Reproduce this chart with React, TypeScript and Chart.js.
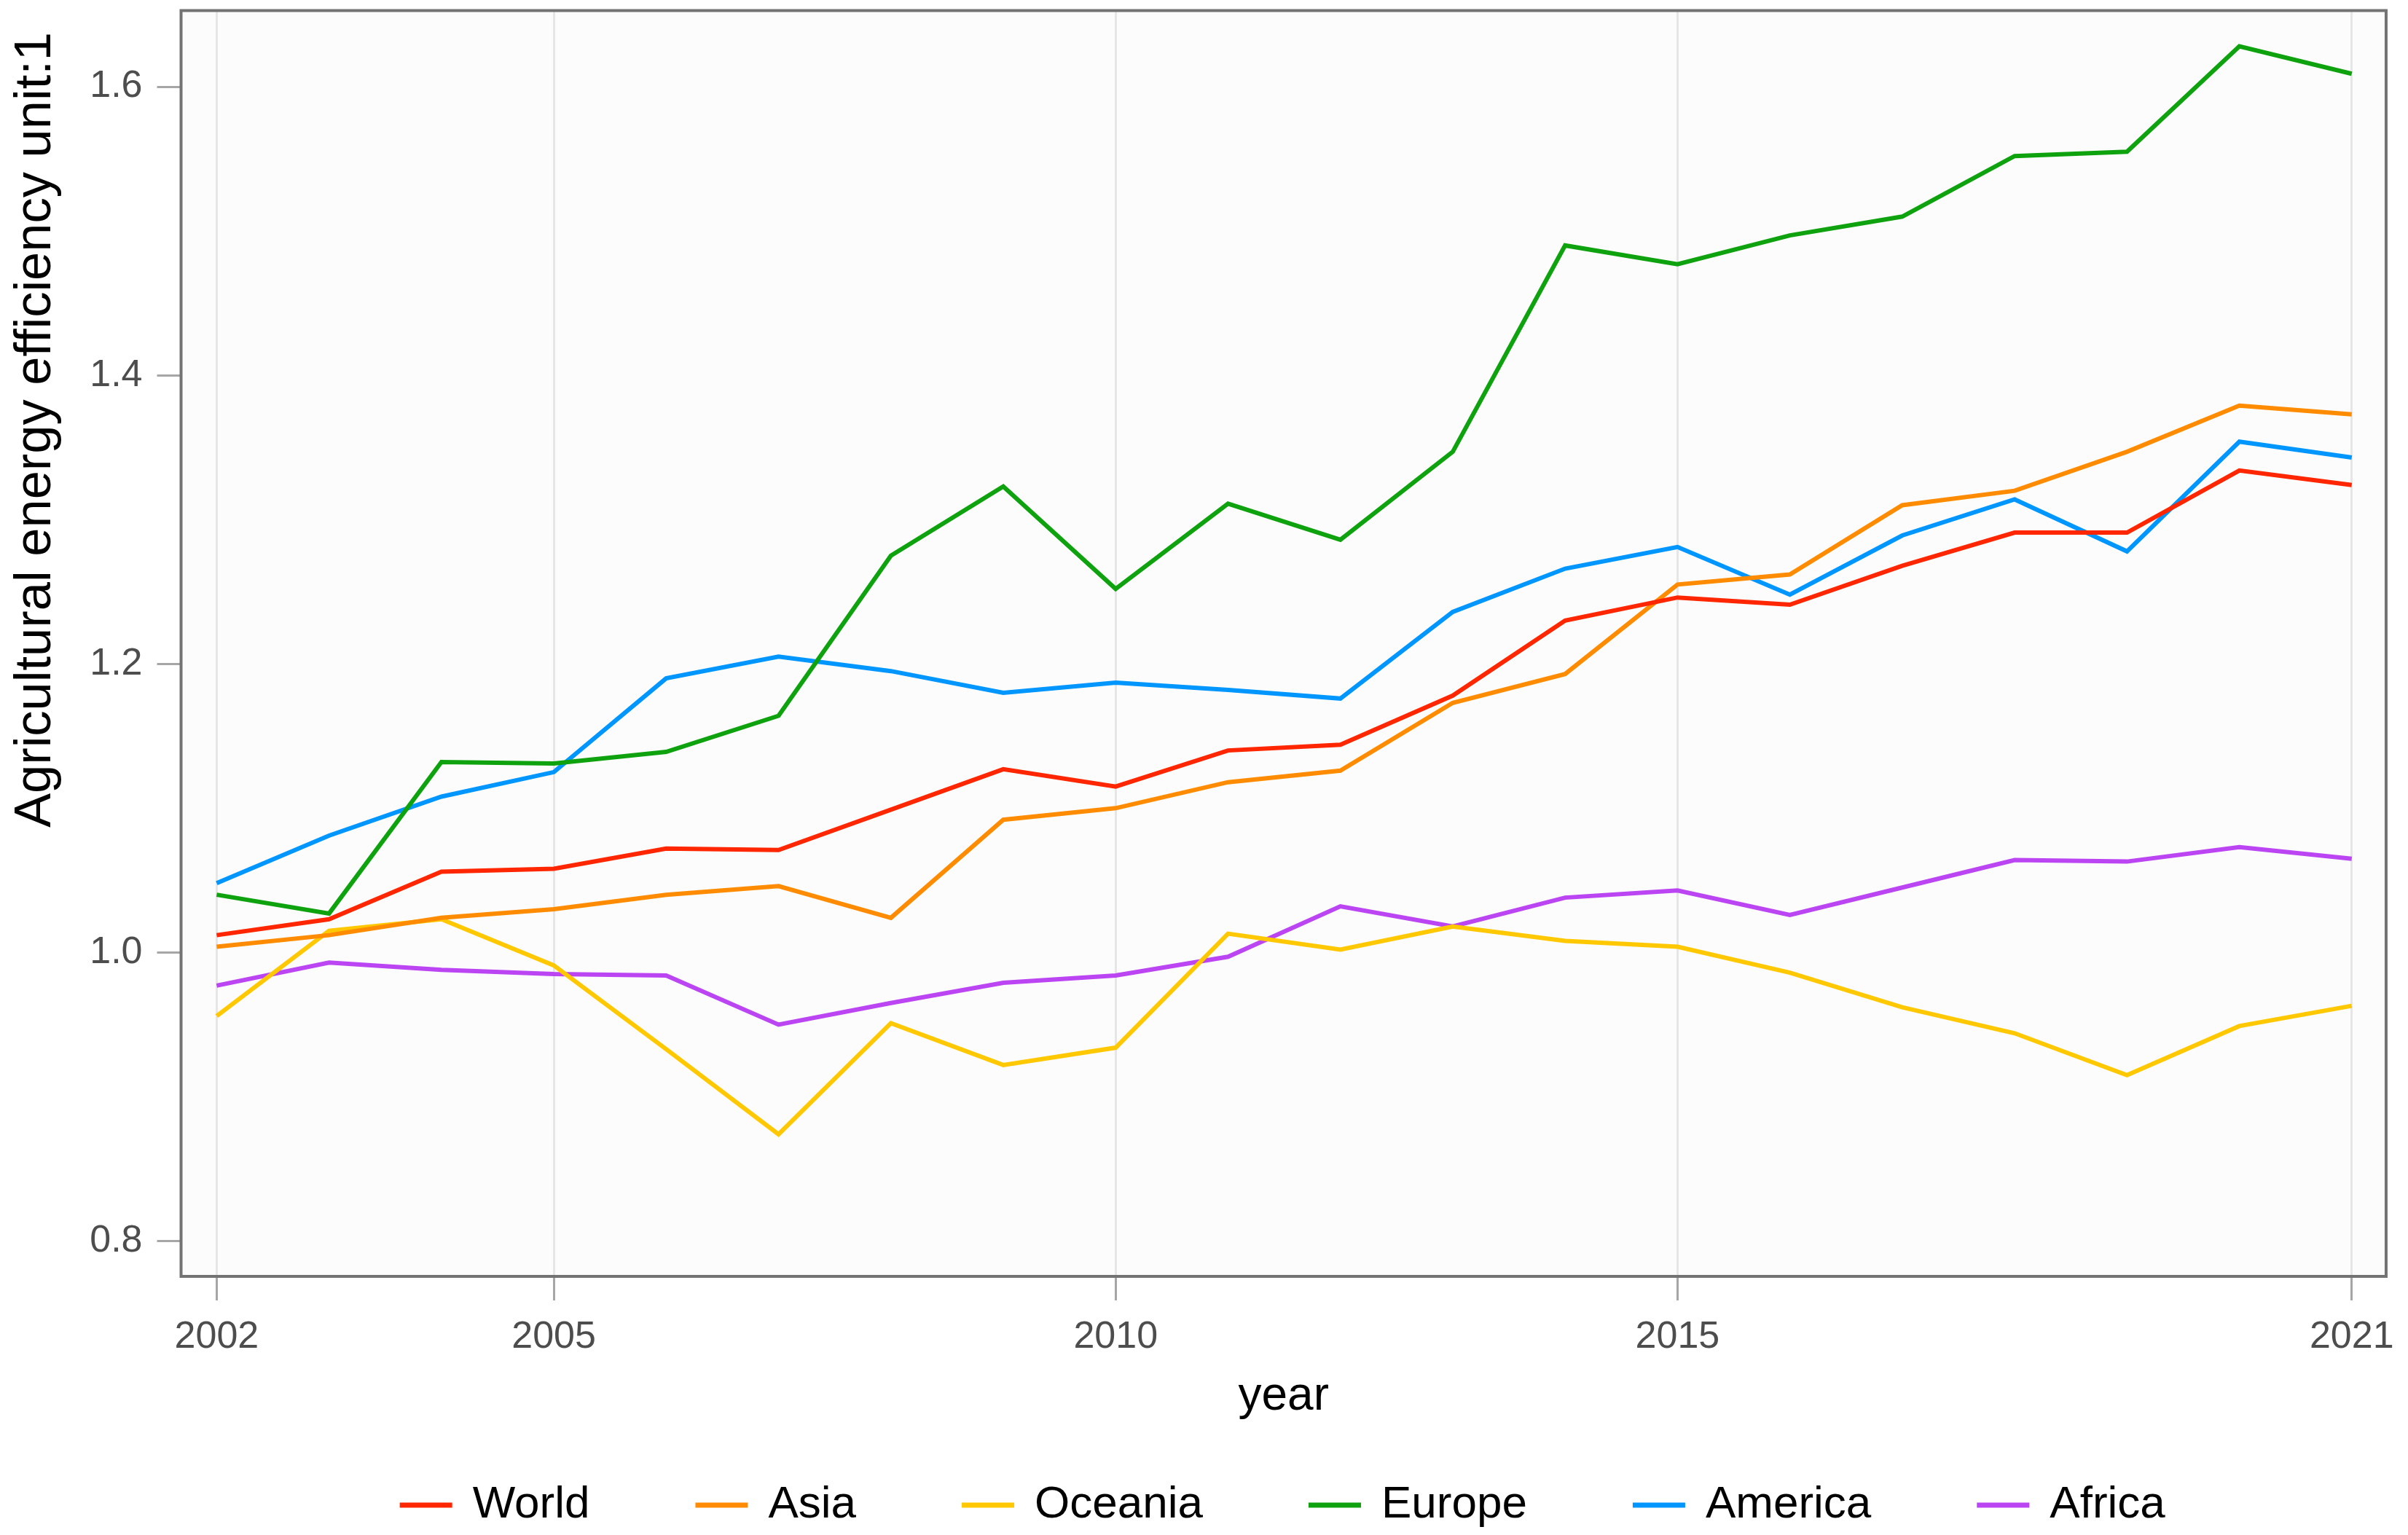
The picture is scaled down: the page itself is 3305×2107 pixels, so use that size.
import React, { useEffect, useRef } from "react";
import { Chart, registerables } from "chart.js";

Chart.register(...registerables);

const years = [2002, 2003, 2004, 2005, 2006, 2007, 2008, 2009, 2010, 2011, 2012, 2013, 2014, 2015, 2016, 2017, 2018, 2019, 2020, 2021];
const world = [1.012, 1.023, 1.056, 1.058, 1.072, 1.071, 1.099, 1.127, 1.115, 1.140, 1.144, 1.178, 1.230, 1.246, 1.241, 1.268, 1.291, 1.291, 1.334, 1.324];
const asia = [1.004, 1.012, 1.024, 1.030, 1.040, 1.046, 1.024, 1.092, 1.100, 1.118, 1.126, 1.173, 1.193, 1.255, 1.262, 1.310, 1.320, 1.347, 1.379, 1.373];
const oceania = [0.956, 1.015, 1.023, 0.991, 0.933, 0.874, 0.951, 0.922, 0.934, 1.013, 1.002, 1.018, 1.008, 1.004, 0.986, 0.962, 0.944, 0.915, 0.949, 0.963];
const europe = [1.040, 1.027, 1.132, 1.131, 1.139, 1.164, 1.275, 1.323, 1.252, 1.311, 1.286, 1.347, 1.490, 1.477, 1.497, 1.510, 1.552, 1.555, 1.628, 1.609];
const america = [1.048, 1.081, 1.108, 1.125, 1.190, 1.205, 1.195, 1.180, 1.187, 1.182, 1.176, 1.236, 1.266, 1.281, 1.248, 1.289, 1.314, 1.278, 1.354, 1.343];
const africa = [0.977, 0.993, 0.988, 0.985, 0.984, 0.950, 0.965, 0.979, 0.984, 0.997, 1.032, 1.018, 1.038, 1.043, 1.026, 1.045, 1.064, 1.063, 1.073, 1.065];

const seriesNames = ["World", "Asia", "Oceania", "Europe", "America", "Africa"];
const seriesColors = ["#FF2600", "#FF8C00", "#FFC800", "#0EA30E", "#0096FF", "#BB45F2"];

const xTicks = [2002, 2005, 2010, 2015, 2021];
const yTicks = [0.8, 1.0, 1.2, 1.4, 1.6];

const xTitle = "year";
const yTitle = "Agricultural energy efficiency unit:1";

const FONT = "'Liberation Sans', Arial, sans-serif";
const W = 3305;
const H = 2107;

export default function App() {
  const ref = useRef<HTMLCanvasElement | null>(null);

  useEffect(() => {
    document.body.style.margin = "0";
    const canvas = ref.current;
    if (!canvas) return;
    const seriesValues = [world, asia, oceania, europe, america, africa];

    const panelPlugin = {
      id: "panelPlugin",
      beforeDraw(chart: any) {
        const { ctx, chartArea } = chart;
        ctx.save();
        ctx.fillStyle = "#FFFFFF";
        ctx.fillRect(0, 0, chart.width, chart.height);
        ctx.fillStyle = "#FCFCFC";
        ctx.fillRect(chartArea.left, chartArea.top, chartArea.right - chartArea.left, chartArea.bottom - chartArea.top);
        ctx.restore();
      },
      afterDatasetsDraw(chart: any) {
        const { ctx, chartArea } = chart;
        ctx.save();
        ctx.strokeStyle = "#737373";
        ctx.lineWidth = 4;
        ctx.strokeRect(chartArea.left, chartArea.top, chartArea.right - chartArea.left, chartArea.bottom - chartArea.top);
        ctx.restore();
      },
      afterDraw(chart: any) {
        const { ctx } = chart;
        ctx.save();
        ctx.translate(69, 590);
        ctx.rotate(-Math.PI / 2);
        ctx.font = `70.5px ${FONT}`;
        ctx.fillStyle = "#000000";
        ctx.textAlign = "center";
        ctx.textBaseline = "alphabetic";
        ctx.fillText(yTitle, 0, 0);
        ctx.restore();
      },
    };

    const chart = new Chart(canvas, {
      type: "line",
      data: {
        datasets: seriesNames.map((name, i) => ({
          label: name,
          data: years.map((yr, j) => ({ x: yr, y: seriesValues[i][j] })),
          borderColor: seriesColors[i],
          backgroundColor: seriesColors[i],
          borderWidth: 6,
          pointRadius: 0,
          tension: 0,
          fill: false,
        })),
      },
      options: {
        animation: false,
        responsive: false,
        maintainAspectRatio: false,
        devicePixelRatio: 1,
        layout: { padding: { left: 0, right: 25.4, top: 14.5, bottom: 0 } },
        plugins: {
          tooltip: { enabled: false },
          legend: {
            position: "bottom",
            fullSize: false,
            labels: {
              boxWidth: 66,
              boxHeight: 1,
              padding: 148,
              color: "#000000",
              font: { size: 62, family: FONT },
            },
          },
        },
        scales: {
          x: {
            type: "linear",
            min: 2001.683,
            max: 2021.306,
            afterBuildTicks: (s: any) => {
              s.ticks = xTicks.map((v) => ({ value: v }));
            },
            afterFit: (s: any) => {
              s.height = 135;
            },
            ticks: {
              autoSkip: false,
              maxRotation: 0,
              padding: 19,
              color: "#4D4D4D",
              font: { size: 52, family: FONT },
              callback: (v: any) => String(v),
            },
            grid: {
              color: "#E6E6E6",
              lineWidth: 3,
              tickColor: "#A6A6A6",
              tickWidth: 3,
              tickLength: 33,
            },
            border: { display: false },
            title: {
              display: true,
              text: xTitle,
              color: "#000000",
              font: { size: 64, family: FONT },
              padding: { top: 0, bottom: -69 },
            },
          },
          y: {
            type: "linear",
            min: 0.7755,
            max: 1.6528,
            afterBuildTicks: (s: any) => {
              s.ticks = yTicks.map((v) => ({ value: v }));
            },
            afterFit: (s: any) => {
              s.width = 248.5;
              s.paddingTop = 0;
              s.paddingBottom = 0;
            },
            ticks: {
              padding: 20,
              color: "#4D4D4D",
              font: { size: 52, family: FONT },
              callback: (v: any) => Number(v).toFixed(1),
            },
            grid: {
              drawOnChartArea: false,
              tickColor: "#A6A6A6",
              tickWidth: 3,
              tickLength: 33,
            },
            border: { display: false },
          },
        },
      },
      plugins: [panelPlugin],
    } as any);

    return () => {
      chart.destroy();
    };
  }, []);

  return (
    <div style={{ width: W, height: H, background: "#FFFFFF" }}>
      <canvas ref={ref} width={W} height={H} style={{ display: "block", width: W, height: H }} />
    </div>
  );
}
